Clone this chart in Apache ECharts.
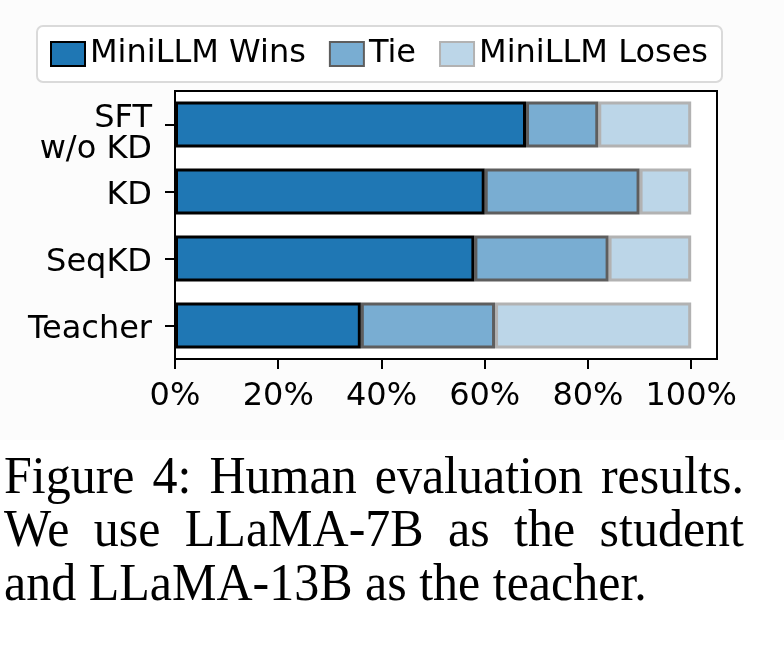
<!DOCTYPE html>
<html>
<head>
<meta charset="utf-8">
<script src="https://cdn.jsdelivr.net/npm/echarts@6/dist/echarts.min.js"></script>
<style>
  html, body { margin: 0; padding: 0; background: #fff; }
  #chart { width: 784px; height: 646px; }
</style>
</head>
<body>
<div id="chart"></div>
<script>
// data (percent of comparisons)
const categories = ["SFT\nw/o KD", "KD", "SeqKD", "Teacher"];
const winsValues = [68, 60, 58, 36];
const tieValues = [14, 30, 26, 26];
const losesValues = [18, 10, 16, 38];
const xTicks = [0, 20, 40, 60, 80, 100];

const captionLines = [
    "Figure 4:  Human evaluation results.",
    "We use LLaMA-7B as the student",
    "and LLaMA-13B as the teacher."
];

const chart = echarts.init(document.getElementById("chart"));

// caption: justify the first two lines like the LaTeX paragraph
const captionFont = '50px "Liberation Serif"';
const ctx = document.createElement("canvas").getContext("2d");
ctx.font = captionFont;
const captionLeft = 4, captionRight = 744;
const captionTop = [453, 506.5, 560];
const captionGraphics = [];
captionLines.forEach((line, i) => {
    const words = line.split(/\s+/);
    const justify = i < captionLines.length - 1;
    if (!justify) {
        captionGraphics.push({
            type: "text", x: captionLeft, y: captionTop[i], scaleY: 1.04, silent: true,
            style: { text: line, font: captionFont, fill: "#000" }
        });
        return;
    }
    const widths = words.map(w => ctx.measureText(w).width);
    const total = widths.reduce((a, b) => a + b, 0);
    const gap = (captionRight - captionLeft - total) / (words.length - 1);
    let x = captionLeft;
    words.forEach((w, j) => {
        captionGraphics.push({
            type: "text", x: x, y: captionTop[i], scaleY: 1.04, silent: true,
            style: { text: w, font: captionFont, fill: "#000" }
        });
        x += widths[j] + gap;
    });
});

const baseFont = "DejaVu Sans";

const option = {
    backgroundColor: "#ffffff",
    animation: false,
    textStyle: { fontFamily: baseFont },
    graphic: [
        {
            type: "rect", silent: true, z: -100,
            shape: { x: 0, y: 0, width: 784, height: 440 },
            style: { fill: "#fcfcfc" }
        },
        ...captionGraphics
    ],
    legend: {
        left: 37,
        top: 26,
        padding: [12, 14, 12, 13],
        icon: "rect",
        itemWidth: 34,
        itemHeight: 24,
        itemGap: 23,
        backgroundColor: "#ffffff",
        borderColor: "#dadada",
        borderWidth: 2,
        borderRadius: 6,
        textStyle: { fontSize: 32, color: "#000", fontFamily: baseFont },
        data: ["MiniLLM Wins", "Tie", "MiniLLM Loses"]
    },
    grid: {
        left: 175,
        top: 91,
        right: 67,
        bottom: 287,
        show: true,
        backgroundColor: "#ffffff",
        borderColor: "#000",
        borderWidth: 2,
        containLabel: false
    },
    xAxis: {
        type: "value",
        min: 0,
        max: 105,
        axisLine: { show: true, lineStyle: { color: "#000", width: 2 } },
        axisTick: { show: true, length: 10, lineStyle: { color: "#000", width: 2 }, customValues: xTicks },
        axisLabel: {
            customValues: xTicks,
            formatter: "{value}%",
            fontSize: 32,
            color: "#000",
            margin: 22
        },
        splitLine: { show: false }
    },
    yAxis: {
        type: "category",
        inverse: true,
        data: categories,
        axisLine: { show: true, lineStyle: { color: "#000", width: 2 } },
        axisTick: { show: true, alignWithLabel: true, length: 10, lineStyle: { color: "#000", width: 2 } },
        axisLabel: {
            fontSize: 32,
            color: "#000",
            margin: 23,
            align: "right",
            formatter: function (v) {
                const parts = v.split("\n");
                if (parts.length > 1) return "{top|" + parts[0] + "}\n{bot|" + parts[1] + "}";
                return "{one|" + v + "}";
            },
            rich: {
                one: { fontSize: 32, color: "#000", fontFamily: baseFont, padding: [8, 0, 0, 0] },
                top: { fontSize: 32, color: "#000", fontFamily: baseFont, lineHeight: 51 },
                bot: { fontSize: 32, color: "#000", fontFamily: baseFont, lineHeight: 12 }
            }
        },
        splitLine: { show: false }
    },
    series: [
        {
            name: "MiniLLM Wins",
            type: "bar",
            stack: "total",
            barWidth: 46,
            z: 4,
            itemStyle: { color: "#1f77b4", borderColor: "#000", borderWidth: 3 },
            data: winsValues
        },
        {
            name: "Tie",
            type: "bar",
            stack: "total",
            barWidth: 46,
            z: 3,
            itemStyle: { color: "#79add2", borderColor: "#5e5e5e", borderWidth: 3 },
            data: tieValues
        },
        {
            name: "MiniLLM Loses",
            type: "bar",
            stack: "total",
            barWidth: 46,
            z: 2,
            itemStyle: { color: "#bcd6e8", borderColor: "#b2b2b2", borderWidth: 3 },
            data: losesValues
        }
    ]
};

chart.setOption(option);
window.addEventListener("resize", () => chart.resize());
</script>
</body>
</html>
